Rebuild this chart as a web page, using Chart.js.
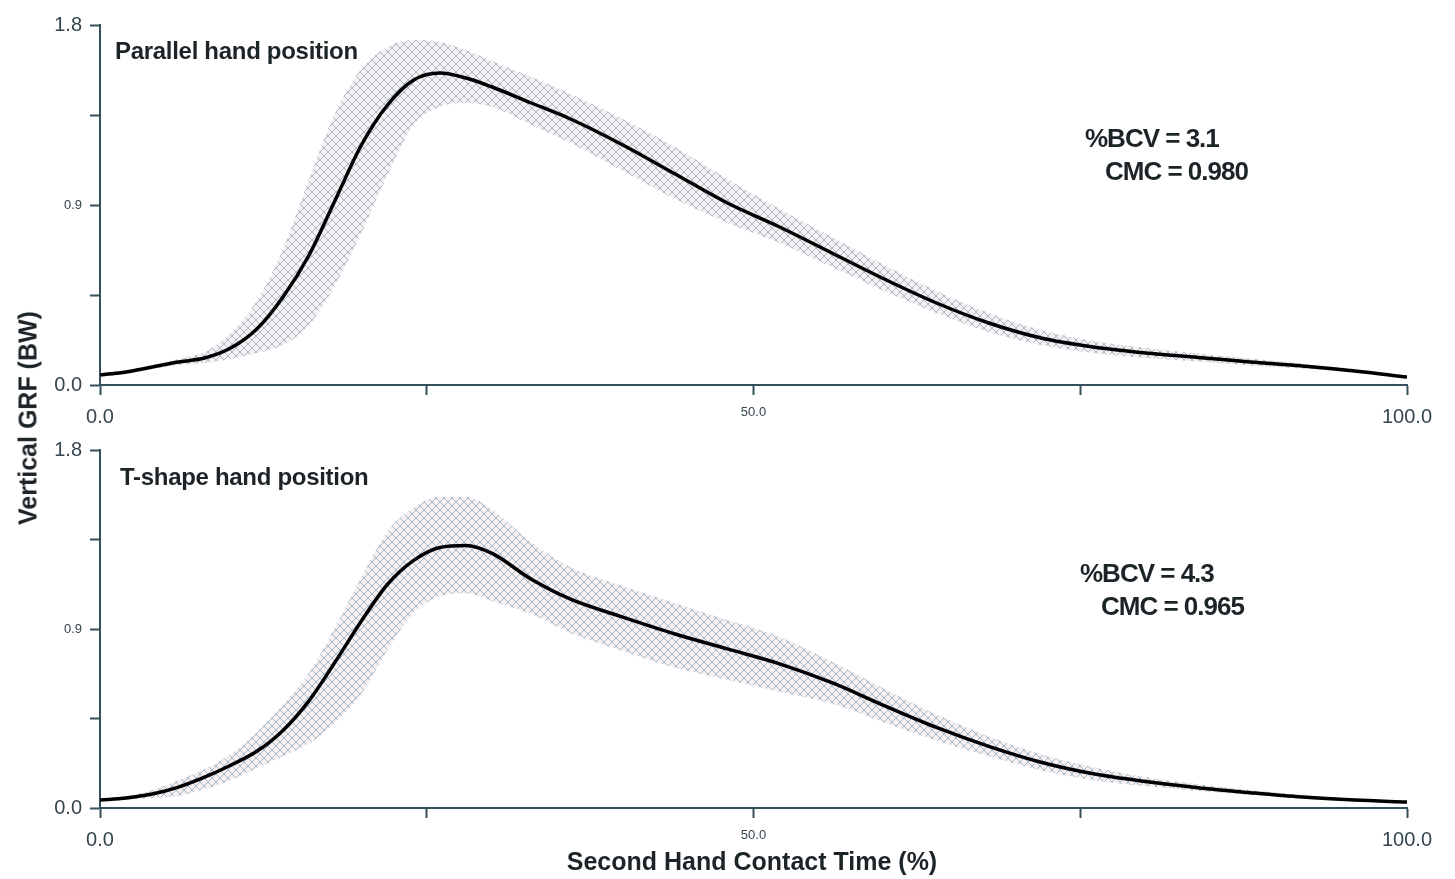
<!DOCTYPE html>
<html>
<head>
<meta charset="utf-8">
<script src="https://cdn.jsdelivr.net/npm/chart.js@4.4.1/dist/chart.umd.min.js"></script>
<style>
    body { margin: 0; background: #fff; }
    #wrap { position: relative; width: 1455px; height: 879px; font-family: "Liberation Sans", Arial, sans-serif; }
    canvas { position: absolute; left: 0; }
    .lbl { position: absolute; font-weight: bold; color: #1d2428; white-space: nowrap; line-height: 1; }
</style>
</head>
<body>
<div id="wrap">
    <canvas id="topChart" width="1455" height="430" style="top:0"></canvas>
    <canvas id="bottomChart" width="1455" height="449" style="top:430px"></canvas>

    <div class="lbl" style="left:115px;top:39px;font-size:24px;letter-spacing:-0.3px;">Parallel hand position</div>
    <div class="lbl" style="left:1085px;top:125px;font-size:26px;letter-spacing:-1px;">%BCV = 3.1</div>
    <div class="lbl" style="left:1105px;top:158px;font-size:26px;letter-spacing:-1px;">CMC = 0.980</div>

    <div class="lbl" style="left:120px;top:465px;font-size:24px;letter-spacing:-0.3px;">T-shape hand position</div>
    <div class="lbl" style="left:1080px;top:560px;font-size:26px;letter-spacing:-1px;">%BCV = 4.3</div>
    <div class="lbl" style="left:1101px;top:593px;font-size:26px;letter-spacing:-1px;">CMC = 0.965</div>

    <div class="lbl" style="left:752px;top:849px;font-size:25px;transform:translateX(-50%);">Second Hand Contact Time (%)</div>
    <div class="lbl" style="left:28px;top:418px;font-size:25px;transform:translate(-50%,-50%) rotate(-90deg);">Vertical GRF (BW)</div>
</div>

<script>
// Time axis (% of second hand contact)
const timePct = [0, 2, 4, 6, 8, 10, 12, 14, 16, 18, 20, 22, 24, 26, 28, 30, 33, 36, 40, 44, 48, 52, 56, 60, 64, 68, 72, 76, 80, 84, 88, 92, 96, 100];

// Parallel hand position: mean and +/- SD band
const parallelMean  = [0.05, 0.065, 0.09, 0.115, 0.135, 0.185, 0.28, 0.44, 0.65, 0.925, 1.2, 1.4, 1.525, 1.56, 1.535, 1.49, 1.41, 1.33, 1.2, 1.055, 0.91, 0.79, 0.66, 0.53, 0.41, 0.31, 0.235, 0.19, 0.16, 0.138, 0.115, 0.095, 0.07, 0.04];
const parallelUpper = [0.06, 0.075, 0.1, 0.13, 0.165, 0.26, 0.42, 0.68, 1.03, 1.36, 1.58, 1.69, 1.725, 1.715, 1.675, 1.62, 1.54, 1.455, 1.33, 1.19, 1.03, 0.88, 0.74, 0.6, 0.47, 0.36, 0.275, 0.22, 0.185, 0.158, 0.132, 0.108, 0.08, 0.045];
const parallelLower = [0.04, 0.055, 0.08, 0.1, 0.11, 0.13, 0.16, 0.2, 0.3, 0.5, 0.76, 1.05, 1.3, 1.39, 1.41, 1.39, 1.3, 1.21, 1.07, 0.93, 0.81, 0.71, 0.59, 0.47, 0.36, 0.265, 0.2, 0.16, 0.135, 0.118, 0.098, 0.082, 0.06, 0.035];

// T-shape hand position: mean and +/- SD band
const tshapeMean  = [0.04, 0.05, 0.07, 0.105, 0.155, 0.215, 0.285, 0.39, 0.54, 0.735, 0.94, 1.125, 1.245, 1.31, 1.32, 1.28, 1.15, 1.05, 0.96, 0.875, 0.8, 0.725, 0.63, 0.515, 0.405, 0.31, 0.23, 0.172, 0.133, 0.102, 0.077, 0.055, 0.04, 0.03];
const tshapeUpper = [0.045, 0.06, 0.09, 0.14, 0.195, 0.27, 0.38, 0.52, 0.68, 0.91, 1.16, 1.39, 1.51, 1.565, 1.565, 1.5, 1.335, 1.21, 1.115, 1.03, 0.945, 0.86, 0.735, 0.6, 0.47, 0.36, 0.27, 0.205, 0.155, 0.12, 0.09, 0.065, 0.046, 0.034];
const tshapeLower = [0.035, 0.04, 0.05, 0.06, 0.095, 0.14, 0.2, 0.26, 0.325, 0.43, 0.575, 0.795, 0.98, 1.065, 1.08, 1.04, 0.975, 0.88, 0.79, 0.705, 0.645, 0.585, 0.525, 0.43, 0.34, 0.26, 0.19, 0.14, 0.11, 0.085, 0.065, 0.046, 0.033, 0.027];

// Tick labels
const xTickLabels = { 0: '0.0', 50: '50.0', 100: '100.0' };
const yTickLabels = { 0: '0.0', 0.9: '0.9', 1.8: '1.8' };

const axisColor = '#33505b';
const tickTextColor = '#34464f';

// Cross-hatch pattern for the SD band
function makeHatch() {
    const c = document.createElement('canvas');
    c.width = 8;
    c.height = 8;
    const g = c.getContext('2d');
    g.fillStyle = 'rgba(240,232,230,0.6)';
    g.fillRect(0, 0, 8, 8);
    g.strokeStyle = 'rgba(135,165,192,0.75)';
    g.lineWidth = 1;
    g.beginPath();
    g.moveTo(0, 0); g.lineTo(8, 8);
    g.moveTo(8, 0); g.lineTo(0, 8);
    g.stroke();
    return g.createPattern(c, 'repeat');
}

function toPoints(values) {
    return timePct.map((t, i) => ({ x: t, y: values[i] }));
}

function yLabel(value) {
    for (const k in yTickLabels) {
        if (Math.abs(value - parseFloat(k)) < 1e-6) return yTickLabels[k];
    }
    return '';
}

function makeChart(id, mean, upper, lower, padTop, padBottom) {
    const ctx = document.getElementById(id).getContext('2d');
    const hatch = makeHatch();
    return new Chart(ctx, {
        type: 'line',
        data: {
            datasets: [
                {
                    data: toPoints(mean),
                    borderColor: '#000',
                    borderWidth: 3.5,
                    fill: false,
                    cubicInterpolationMode: 'monotone'
                },
                {
                    data: toPoints(upper),
                    borderWidth: 0,
                    borderColor: 'rgba(0,0,0,0)',
                    backgroundColor: hatch,
                    fill: '+1',
                    cubicInterpolationMode: 'monotone'
                },
                {
                    data: toPoints(lower),
                    borderWidth: 0,
                    borderColor: 'rgba(0,0,0,0)',
                    fill: false,
                    cubicInterpolationMode: 'monotone'
                }
            ]
        },
        options: {
            responsive: false,
            animation: false,
            layout: { padding: { left: 0, right: 48, top: padTop, bottom: padBottom } },
            elements: { point: { radius: 0 } },
            plugins: { legend: { display: false }, tooltip: { enabled: false } },
            scales: {
                x: {
                    type: 'linear',
                    min: 0,
                    max: 100,
                    afterFit: scale => { scale.height = 45; },
                    border: { color: axisColor, width: 2 },
                    grid: { drawOnChartArea: false, color: axisColor, tickLength: 10, tickWidth: 2 },
                    ticks: {
                        stepSize: 25,
                        maxRotation: 0,
                        padding: 10,
                        color: tickTextColor,
                        callback: value => xTickLabels[value] || '',
                        font: c => ({ family: 'Liberation Sans', size: c.tick && c.tick.value === 50 ? 13 : 20 })
                    }
                },
                y: {
                    min: 0,
                    max: 1.8,
                    afterFit: scale => { scale.width = 100; },
                    border: { color: axisColor, width: 2 },
                    grid: { drawOnChartArea: false, color: axisColor, tickLength: 10, tickWidth: 2 },
                    ticks: {
                        stepSize: 0.45,
                        padding: 8,
                        color: tickTextColor,
                        callback: value => yLabel(value),
                        font: c => ({ family: 'Liberation Sans', size: c.tick && Math.abs(c.tick.value - 0.9) < 1e-6 ? 13 : 20 })
                    }
                }
            }
        }
    });
}

makeChart('topChart', parallelMean, parallelUpper, parallelLower, 25, 0);
makeChart('bottomChart', tshapeMean, tshapeUpper, tshapeLower, 20, 26);
</script>
</body>
</html>
